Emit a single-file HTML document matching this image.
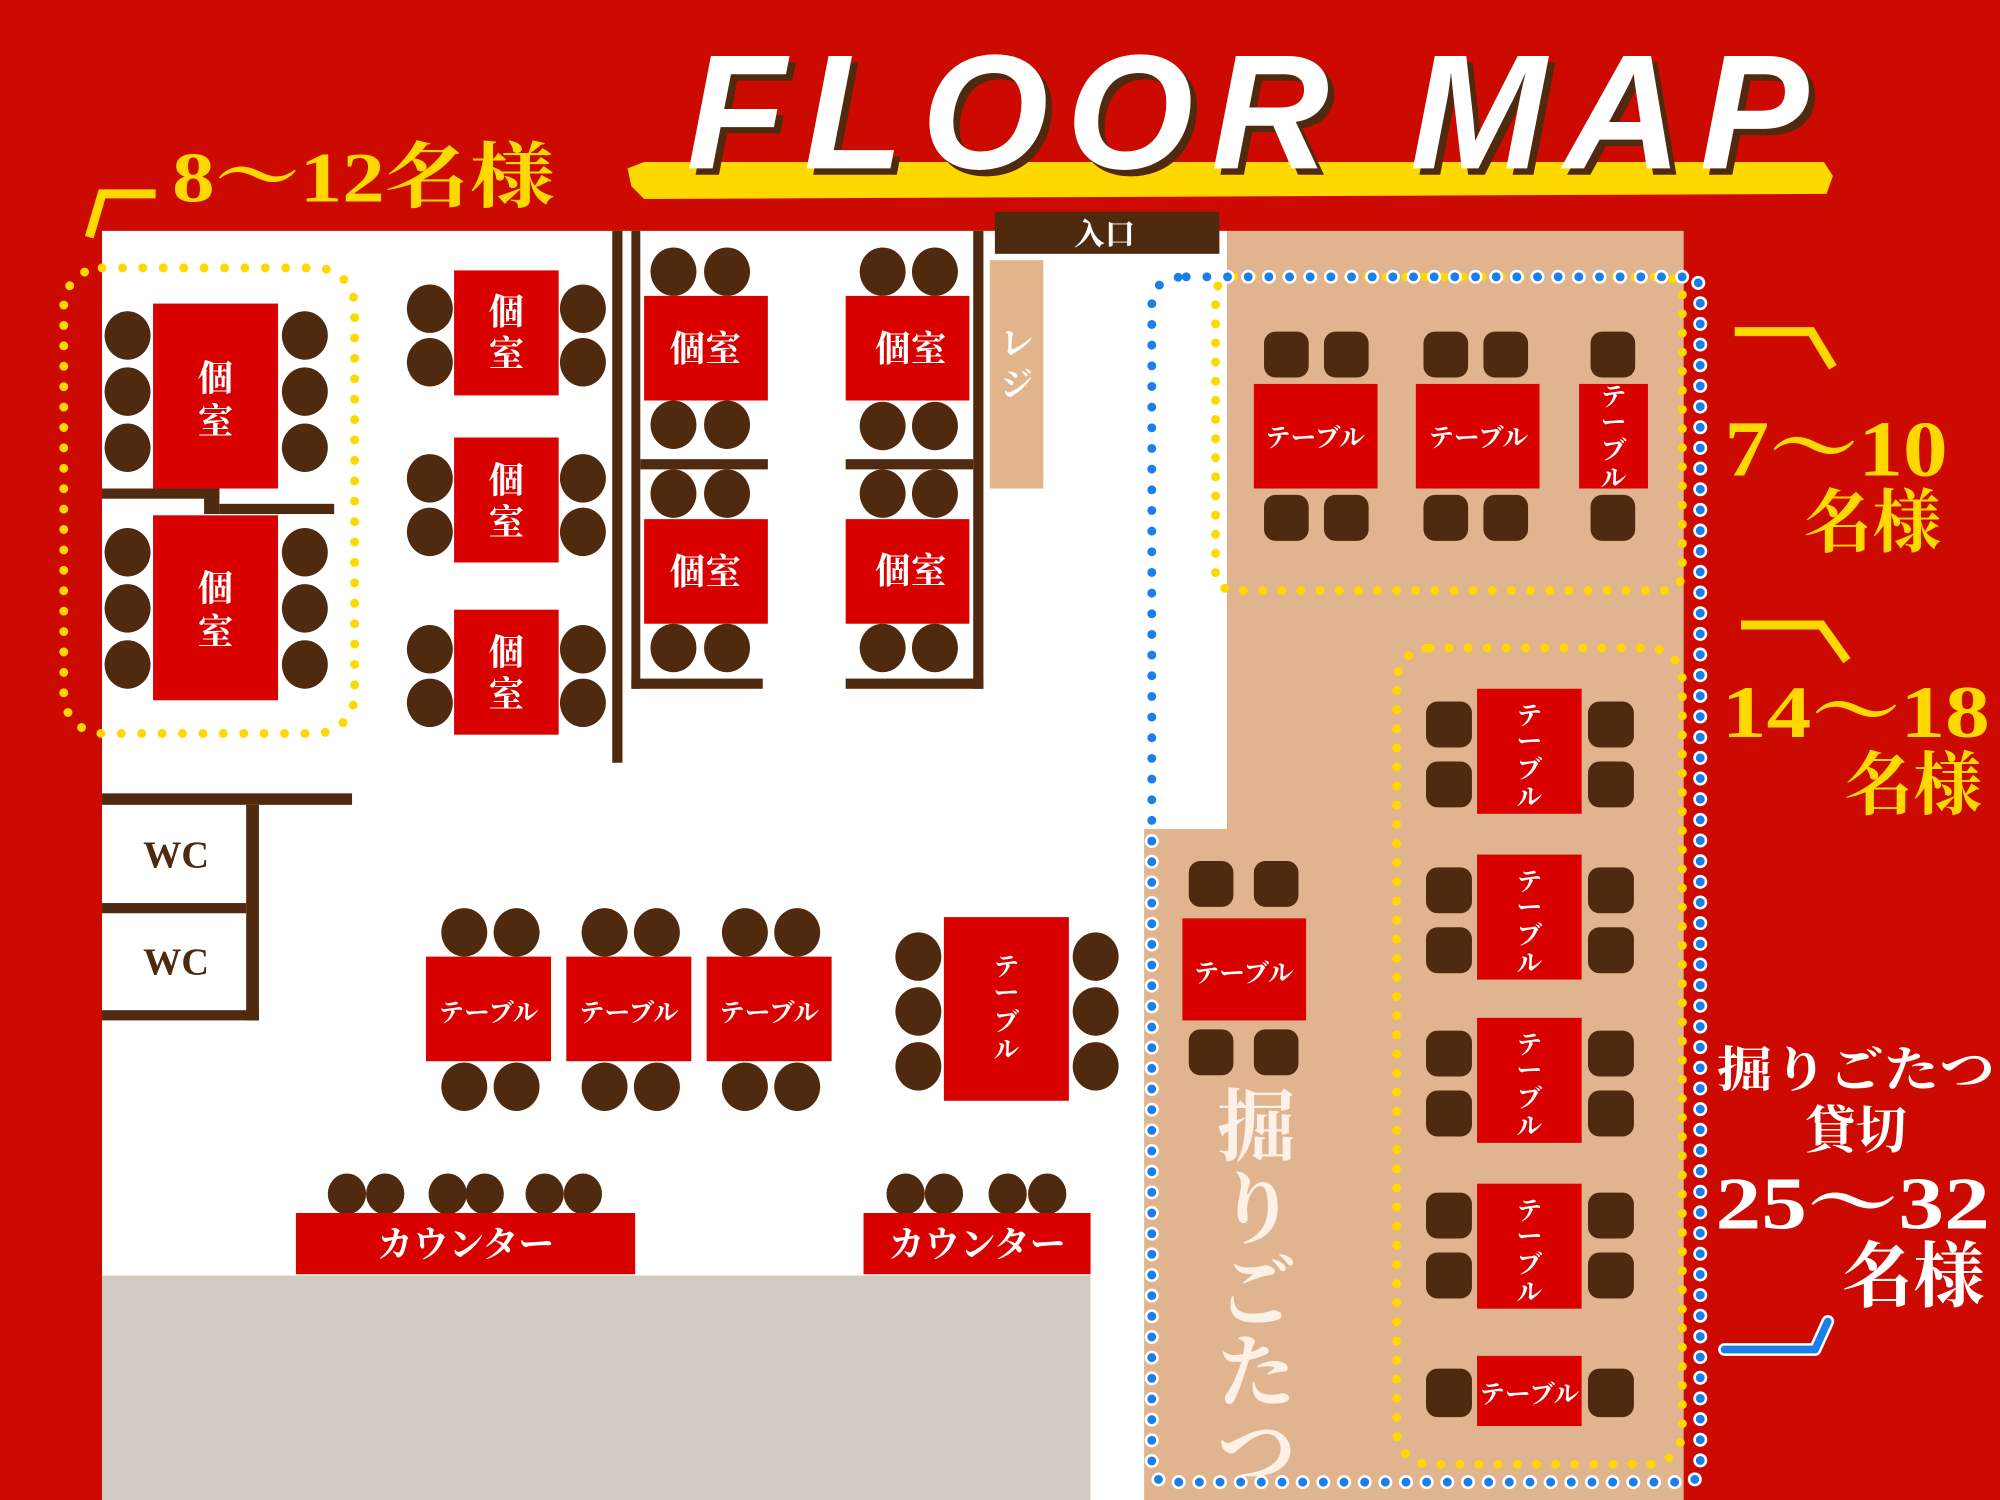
<!DOCTYPE html>
<html><head><meta charset="utf-8"><style>
html,body{margin:0;padding:0;width:2000px;height:1500px;overflow:hidden;background:#cc0a00}
svg{display:block}
text{font-family:"Liberation Serif","Noto Serif CJK SC","Noto Sans CJK JP",serif;font-weight:bold}
</style></head><body>
<svg width="2000" height="1500" viewBox="0 0 1568 1176" xmlns="http://www.w3.org/2000/svg">
<rect width="1568" height="1176" fill="#cc0a00"/>
<!-- floor -->
<rect x="80" y="181" width="882" height="995" fill="#fff"/>
<rect x="962" y="181" width="358" height="995" fill="#e0b48e"/>
<rect x="897" y="650" width="70" height="526" fill="#e0b48e"/>
<rect x="80" y="1000" width="775" height="176" fill="#d3cac4"/>
<!-- title -->
<path d="M492,132 L505,127 L1430,127 L1437,138 L1432,152 L505,156 L495,146 Z" fill="#ffd800"/>
<text x="990" y="137" text-anchor="middle" font-style="italic" font-size="128" fill="#4f2a0f" letter-spacing="14" font-weight="bold" style="font-family:'Liberation Sans',sans-serif">FLOOR MAP</text>
<text x="985" y="132" text-anchor="middle" font-style="italic" font-size="128" fill="#fff" letter-spacing="14" font-weight="bold" style="font-family:'Liberation Sans',sans-serif">FLOOR MAP</text>
<!-- 8-12 label -->
<polyline points="70,186 80,152 122,152" fill="none" stroke="#ffd800" stroke-width="7"/>
<text x="135" y="158" font-size="56" fill="#ffd800" textLength="300" lengthAdjust="spacingAndGlyphs">8〜12名様</text>
<!-- entrance / reji -->
<rect x="780" y="166" width="176" height="33" fill="#4f2a0f"/>
<text x="866" y="192" text-anchor="middle" font-size="24" fill="#fff">入口</text>
<rect x="776" y="204" width="42" height="179" fill="#e2b48c"/>
<text x="797" y="278" text-anchor="middle" font-size="26" fill="#fff">レ</text>
<text x="797" y="310" text-anchor="middle" font-size="26" fill="#fff">ジ</text>
<!-- left dotted group -->
<rect x="50" y="210" width="228" height="365" rx="30" fill="none" stroke="#ffd800" stroke-width="7" stroke-linecap="round" stroke-dasharray="0 16"/>
<g fill="#4f2a0f">
<ellipse cx="100" cy="263" rx="18" ry="19"/><ellipse cx="100" cy="307" rx="18" ry="19"/><ellipse cx="100" cy="351" rx="18" ry="19"/>
<ellipse cx="239" cy="263" rx="18" ry="19"/><ellipse cx="239" cy="307" rx="18" ry="19"/><ellipse cx="239" cy="351" rx="18" ry="19"/>
<ellipse cx="100" cy="433" rx="18" ry="19"/><ellipse cx="100" cy="477" rx="18" ry="19"/><ellipse cx="100" cy="521" rx="18" ry="19"/>
<ellipse cx="239" cy="433" rx="18" ry="19"/><ellipse cx="239" cy="477" rx="18" ry="19"/><ellipse cx="239" cy="521" rx="18" ry="19"/>
<rect x="80" y="383" width="92" height="8"/><rect x="160" y="383" width="12" height="20"/><rect x="172" y="395" width="90" height="8"/>
<ellipse cx="337" cy="242" rx="18" ry="19"/><ellipse cx="337" cy="284" rx="18" ry="19"/><ellipse cx="457" cy="242" rx="18" ry="19"/><ellipse cx="457" cy="284" rx="18" ry="19"/>
<ellipse cx="337" cy="375" rx="18" ry="19"/><ellipse cx="337" cy="417" rx="18" ry="19"/><ellipse cx="457" cy="375" rx="18" ry="19"/><ellipse cx="457" cy="417" rx="18" ry="19"/>
<ellipse cx="337" cy="509" rx="18" ry="19"/><ellipse cx="337" cy="551" rx="18" ry="19"/><ellipse cx="457" cy="509" rx="18" ry="19"/><ellipse cx="457" cy="551" rx="18" ry="19"/>
<rect x="480" y="181" width="8" height="417"/>
<rect x="495" y="181" width="7" height="359"/><rect x="502" y="360" width="100" height="8"/><rect x="495" y="532" width="103" height="8"/>
<rect x="763" y="181" width="8" height="359"/><rect x="663" y="360" width="100" height="8"/><rect x="663" y="532" width="108" height="8"/>
<ellipse cx="528" cy="213" rx="18" ry="19"/><ellipse cx="570" cy="213" rx="18" ry="19"/><ellipse cx="528" cy="333" rx="18" ry="19"/><ellipse cx="570" cy="333" rx="18" ry="19"/>
<ellipse cx="528" cy="387" rx="18" ry="19"/><ellipse cx="570" cy="387" rx="18" ry="19"/><ellipse cx="528" cy="508" rx="18" ry="19"/><ellipse cx="570" cy="508" rx="18" ry="19"/>
<ellipse cx="692" cy="213" rx="18" ry="19"/><ellipse cx="733" cy="213" rx="18" ry="19"/><ellipse cx="692" cy="334" rx="18" ry="19"/><ellipse cx="733" cy="334" rx="18" ry="19"/>
<ellipse cx="692" cy="387" rx="18" ry="19"/><ellipse cx="733" cy="387" rx="18" ry="19"/><ellipse cx="692" cy="508" rx="18" ry="19"/><ellipse cx="733" cy="508" rx="18" ry="19"/>
<rect x="80" y="622" width="196" height="9"/><rect x="193" y="631" width="10" height="169"/><rect x="80" y="708" width="113" height="8"/><rect x="80" y="792" width="123" height="8"/>
<ellipse cx="364" cy="731" rx="18" ry="19"/><ellipse cx="405" cy="731" rx="18" ry="19"/><ellipse cx="474" cy="731" rx="18" ry="19"/><ellipse cx="515" cy="731" rx="18" ry="19"/><ellipse cx="584" cy="731" rx="18" ry="19"/><ellipse cx="625" cy="731" rx="18" ry="19"/>
<ellipse cx="364" cy="852" rx="18" ry="19"/><ellipse cx="405" cy="852" rx="18" ry="19"/><ellipse cx="474" cy="852" rx="18" ry="19"/><ellipse cx="515" cy="852" rx="18" ry="19"/><ellipse cx="584" cy="852" rx="18" ry="19"/><ellipse cx="625" cy="852" rx="18" ry="19"/>
<ellipse cx="720" cy="750" rx="18" ry="19"/><ellipse cx="720" cy="793" rx="18" ry="19"/><ellipse cx="720" cy="836" rx="18" ry="19"/>
<ellipse cx="859" cy="750" rx="18" ry="19"/><ellipse cx="859" cy="793" rx="18" ry="19"/><ellipse cx="859" cy="836" rx="18" ry="19"/>
<ellipse cx="272" cy="936" rx="15" ry="16"/><ellipse cx="302" cy="936" rx="15" ry="16"/><ellipse cx="351" cy="936" rx="15" ry="16"/><ellipse cx="380" cy="936" rx="15" ry="16"/><ellipse cx="427" cy="936" rx="15" ry="16"/><ellipse cx="457" cy="936" rx="15" ry="16"/>
<ellipse cx="710" cy="936" rx="15" ry="16"/><ellipse cx="740" cy="936" rx="15" ry="16"/><ellipse cx="790" cy="936" rx="15" ry="16"/><ellipse cx="821" cy="936" rx="15" ry="16"/>
<rect x="991" y="260" width="35" height="36" rx="9"/><rect x="1038" y="260" width="35" height="36" rx="9"/><rect x="1116" y="260" width="35" height="36" rx="9"/><rect x="1163" y="260" width="35" height="36" rx="9"/><rect x="1247" y="260" width="35" height="36" rx="9"/>
<rect x="991" y="388" width="35" height="36" rx="9"/><rect x="1038" y="388" width="35" height="36" rx="9"/><rect x="1116" y="388" width="35" height="36" rx="9"/><rect x="1163" y="388" width="35" height="36" rx="9"/><rect x="1247" y="388" width="35" height="36" rx="9"/>
<rect x="932" y="675" width="35" height="36" rx="9"/><rect x="983" y="675" width="35" height="36" rx="9"/><rect x="932" y="807" width="35" height="36" rx="9"/><rect x="983" y="807" width="35" height="36" rx="9"/>
<rect x="1118" y="550" width="36" height="36" rx="9"/><rect x="1118" y="597" width="36" height="36" rx="9"/><rect x="1245" y="550" width="36" height="36" rx="9"/><rect x="1245" y="597" width="36" height="36" rx="9"/>
<rect x="1118" y="680" width="36" height="36" rx="9"/><rect x="1118" y="727" width="36" height="36" rx="9"/><rect x="1245" y="680" width="36" height="36" rx="9"/><rect x="1245" y="727" width="36" height="36" rx="9"/>
<rect x="1118" y="808" width="36" height="36" rx="9"/><rect x="1118" y="855" width="36" height="36" rx="9"/><rect x="1245" y="808" width="36" height="36" rx="9"/><rect x="1245" y="855" width="36" height="36" rx="9"/>
<rect x="1118" y="935" width="36" height="36" rx="9"/><rect x="1118" y="982" width="36" height="36" rx="9"/><rect x="1245" y="935" width="36" height="36" rx="9"/><rect x="1245" y="982" width="36" height="36" rx="9"/>
<rect x="1118" y="1073" width="36" height="38" rx="9"/><rect x="1245" y="1073" width="36" height="38" rx="9"/>
</g>
<text x="138" y="680" text-anchor="middle" font-size="30" fill="#4f2a0f">WC</text>
<text x="138" y="764" text-anchor="middle" font-size="30" fill="#4f2a0f">WC</text>
<g fill="#d90000">
<rect x="120" y="238" width="98" height="145"/><rect x="120" y="404" width="98" height="145"/>
<rect x="356" y="212" width="82" height="98"/><rect x="356" y="343" width="82" height="98"/><rect x="356" y="478" width="82" height="98"/>
<rect x="505" y="232" width="97" height="82"/><rect x="505" y="407" width="97" height="82"/>
<rect x="663" y="232" width="97" height="82"/><rect x="663" y="407" width="97" height="82"/>
<rect x="334" y="750" width="98" height="82"/><rect x="444" y="750" width="98" height="82"/><rect x="554" y="750" width="98" height="82"/>
<rect x="740" y="719" width="98" height="144"/>
<rect x="232" y="951" width="266" height="48"/><rect x="677" y="951" width="178" height="48"/>
<rect x="983" y="301" width="97" height="82"/><rect x="1110" y="301" width="97" height="82"/><rect x="1238" y="301" width="54" height="82"/>
<rect x="927" y="720" width="97" height="80"/>
<rect x="1158" y="540" width="82" height="98"/><rect x="1158" y="670" width="82" height="98"/><rect x="1158" y="798" width="82" height="98"/><rect x="1158" y="928" width="82" height="98"/><rect x="1158" y="1063" width="82" height="55"/>
</g>
<g fill="#fff" text-anchor="middle">
<text x="169" y="306" font-size="28">個</text><text x="169" y="340" font-size="28">室</text>
<text x="169" y="471" font-size="28">個</text><text x="169" y="505" font-size="28">室</text>
<text x="397" y="254" font-size="28">個</text><text x="397" y="287" font-size="28">室</text>
<text x="397" y="386" font-size="28">個</text><text x="397" y="419" font-size="28">室</text>
<text x="397" y="521" font-size="28">個</text><text x="397" y="554" font-size="28">室</text>
<text x="553" y="283" font-size="28">個室</text><text x="553" y="458" font-size="28">個室</text>
<text x="714" y="283" font-size="28">個室</text><text x="714" y="457" font-size="28">個室</text>
<text x="383" y="801" font-size="20">テーブル</text><text x="493" y="801" font-size="20">テーブル</text><text x="603" y="801" font-size="20">テーブル</text>
<text x="1031" y="350" font-size="20">テーブル</text><text x="1159" y="350" font-size="20">テーブル</text>
<text x="975" y="770" font-size="20">テーブル</text>
<text x="1199" y="1100" font-size="20">テーブル</text>
<text x="365" y="985" font-size="28">カウンター</text><text x="766" y="985" font-size="28">カウンター</text>
<g font-size="20">
<text x="789" y="765">テ</text><text x="789" y="785">ー</text><text x="789" y="808">ブ</text><text x="789" y="830">ル</text>
<text x="1265" y="318">テ</text><text x="1265" y="338">ー</text><text x="1265" y="360">ブ</text><text x="1265" y="382">ル</text>
<text x="1199" y="568">テ</text><text x="1199" y="588">ー</text><text x="1199" y="610">ブ</text><text x="1199" y="632">ル</text>
<text x="1199" y="698">テ</text><text x="1199" y="718">ー</text><text x="1199" y="740">ブ</text><text x="1199" y="762">ル</text>
<text x="1199" y="826">テ</text><text x="1199" y="846">ー</text><text x="1199" y="868">ブ</text><text x="1199" y="890">ル</text>
<text x="1199" y="956">テ</text><text x="1199" y="976">ー</text><text x="1199" y="998">ブ</text><text x="1199" y="1020">ル</text>
</g>
<g font-size="62" fill="#fdf0e6">
<text x="985" y="905">掘</text><text x="985" y="970">り</text><text x="985" y="1035">ご</text><text x="985" y="1098">た</text><text x="985" y="1160">つ</text>
</g>
</g>
<rect x="953" y="217" width="366" height="246" rx="14" fill="none" stroke="#ffd800" stroke-width="7" stroke-linecap="round" stroke-dasharray="0 15"/>
<rect x="1095" y="508" width="224" height="640" rx="26" fill="none" stroke="#ffd800" stroke-width="7" stroke-linecap="round" stroke-dasharray="0 15"/>
<path d="M930,217 L1330,217 L1333,227 L1333,1150 Q1333,1162 1320,1162 L917,1162 Q903,1162 903,1148 L903,240 Q903,217 930,217" fill="none" stroke="#fff" stroke-width="11" stroke-linecap="round" stroke-dasharray="0 16.2"/>
<path d="M930,217 L1330,217 L1333,227 L1333,1150 Q1333,1162 1320,1162 L917,1162 Q903,1162 903,1148 L903,240 Q903,217 930,217" fill="none" stroke="#1a7fe8" stroke-width="7" stroke-linecap="round" stroke-dasharray="0 16.2"/>
<polyline points="1360,260 1420,260 1437,288" fill="none" stroke="#ffd800" stroke-width="7"/>
<text x="1352" y="373" font-size="62" fill="#ffd800" textLength="175" lengthAdjust="spacingAndGlyphs">7〜10</text>
<text x="1468" y="428" text-anchor="middle" font-size="54" fill="#ffd800">名様</text>
<polyline points="1365,490 1428,490 1448,518" fill="none" stroke="#ffd800" stroke-width="7"/>
<text x="1350" y="578" font-size="58" fill="#ffd800" textLength="210" lengthAdjust="spacingAndGlyphs">14〜18</text>
<text x="1500" y="634" text-anchor="middle" font-size="54" fill="#ffd800">名様</text>
<text x="1455" y="852" text-anchor="middle" font-size="38" fill="#fff" textLength="218" lengthAdjust="spacingAndGlyphs">掘りごたつ</text>
<text x="1455" y="900" text-anchor="middle" font-size="40" fill="#fff">貸切</text>
<text x="1345" y="963" font-size="58" fill="#fff" textLength="215" lengthAdjust="spacingAndGlyphs">25〜32</text>
<text x="1500" y="1020" text-anchor="middle" font-size="56" fill="#fff">名様</text>
<polyline points="1352,1058 1423,1058 1433,1036" fill="none" stroke="#fff" stroke-width="10" stroke-linejoin="round" stroke-linecap="round"/>
<polyline points="1352,1058 1423,1058 1433,1036" fill="none" stroke="#1a7fe8" stroke-width="6" stroke-linejoin="round" stroke-linecap="round"/>
</svg>
</body></html>
